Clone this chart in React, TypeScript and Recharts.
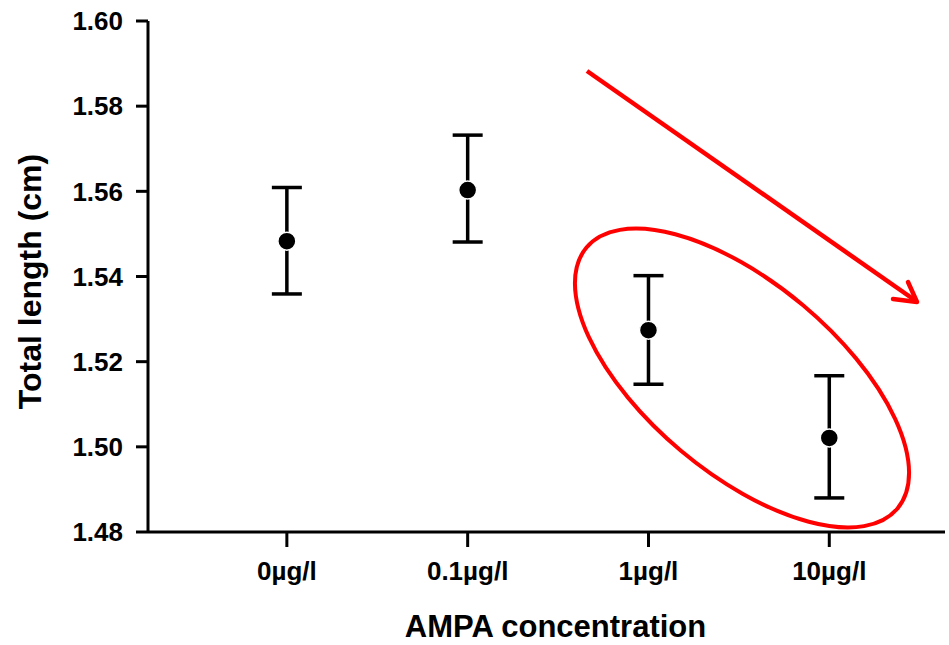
import { ScatterChart, Scatter, XAxis, YAxis, ErrorBar } from 'recharts';

const categories = ['0µg/l', '0.1µg/l', '1µg/l', '10µg/l'];
const means = [1.5483, 1.5603, 1.5274, 1.5021];
const upper = [1.5609, 1.5732, 1.5402, 1.5167];
const lower = [1.5359, 1.5481, 1.5147, 1.488];
const yTicks = [1.48, 1.5, 1.52, 1.54, 1.56, 1.58, 1.6];

const data = categories.map((name, i) => ({
  pos: i + 1,
  name,
  mean: means[i],
  err: [means[i] - lower[i], upper[i] - means[i]],
}));

const FONT = '"Liberation Sans", Arial, sans-serif';

// filled dot with a thin white halo, like the original markers
const Dot = (props: any) => (
  <circle cx={props.cx} cy={props.cy} r={9} fill="#000" stroke="#fff" strokeWidth={1.5} />
);

const YTitle = (props: any) => {
  const vb = props.viewBox || { x: 0, y: 0, height: 0 };
  const cx = vb.x + 30;
  const cy = vb.y + vb.height / 2 + 5;
  return (
    <text
      x={cx}
      y={cy}
      transform={`rotate(-90 ${cx} ${cy})`}
      textAnchor="middle"
      dominantBaseline="central"
      fill="#000"
      fontSize={32}
      fontWeight={700}
      fontFamily={FONT}
    >
      Total length (cm)
    </text>
  );
};

export default function App() {
  return (
    <div style={{ position: 'absolute', left: 0, top: 0, width: 949, height: 645, background: '#fff' }}>
      <ScatterChart width={949} height={645} margin={{ top: 21, right: 4, bottom: 0, left: 0 }}>
        <XAxis
          type="number"
          dataKey="pos"
          domain={[0.232, 4.64]}
          ticks={[1, 2, 3, 4]}
          tickFormatter={(v: number) => categories[v - 1] ?? ''}
          height={113}
          tickSize={15}
          tickMargin={15}
          stroke="#000"
          strokeWidth={3}
          tick={{ fill: '#000', fontSize: 26, fontWeight: 700, fontFamily: FONT }}
          label={{
            value: 'AMPA concentration',
            position: 'insideBottom',
            offset: 8,
            dx: 9,
            fill: '#000',
            fontSize: 31,
            fontWeight: 700,
            fontFamily: FONT,
          }}
        />
        <YAxis
          type="number"
          dataKey="mean"
          domain={[1.48, 1.6]}
          ticks={yTicks}
          tickFormatter={(v: number) => v.toFixed(2)}
          width={148}
          tickSize={12}
          tickMargin={13}
          stroke="#000"
          strokeWidth={3}
          tick={{ fill: '#000', fontSize: 26, fontWeight: 700, fontFamily: FONT }}
          label={{ content: <YTitle /> }}
        />
        <Scatter data={data} shape={<Dot />} isAnimationActive={false}>
          <ErrorBar dataKey="err" direction="y" width={15} stroke="#000" strokeWidth={3.5} isAnimationActive={false} />
        </Scatter>
      </ScatterChart>
      {/* hand-drawn red annotations */}
      <svg width={949} height={645} style={{ position: 'absolute', left: 0, top: 0, pointerEvents: 'none' }}>
        <ellipse cx={742} cy={378} rx={203} ry={95} transform="rotate(40 742 378)" fill="none" stroke="#ff0000" strokeWidth={4} />
        <line x1={587} y1={71} x2={916} y2={301} stroke="#ff0000" strokeWidth={4.5} />
        <polyline points="893,299 917,302 908,282" fill="none" stroke="#ff0000" strokeWidth={4.5} strokeLinecap="round" strokeLinejoin="round" />
      </svg>
    </div>
  );
}
